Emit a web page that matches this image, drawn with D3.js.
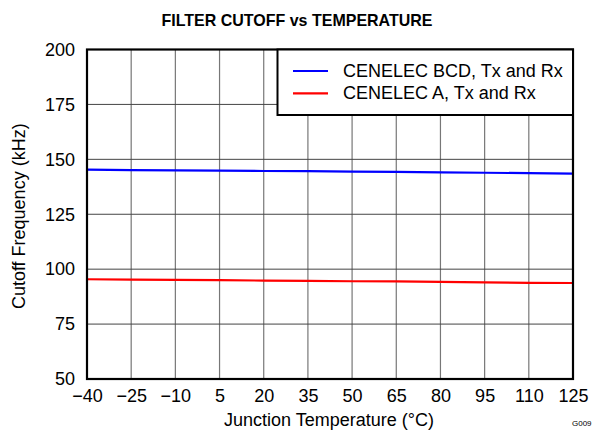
<!DOCTYPE html>
<html><head><meta charset="utf-8">
<script src="https://cdn.jsdelivr.net/npm/d3@7"></script>
<style>body{margin:0;background:#fff}svg{display:block;font-family:"Liberation Sans",Arial,sans-serif}</style>
</head><body><svg id="c" width="595" height="433"></svg>
<script>
const temps = [-40,-25,-10,5,20,35,50,65,80,95,110,125];
const bcdValues = [145.3,145.1,145.0,144.9,144.7,144.6,144.4,144.3,144.1,143.9,143.7,143.5];
const aValues = [95.4,95.2,95.1,95.0,94.8,94.7,94.5,94.4,94.2,94.0,93.8,93.7];
const xTicks = [-40,-25,-10,5,20,35,50,65,80,95,110,125];
const yTicks = [50,75,100,125,150,175,200];
const seriesNames = ["CENELEC BCD, Tx and Rx","CENELEC A, Tx and Rx"];
const seriesColors = ["#0000ff","#ff0000"];

const svg = d3.select("#c");
const L=87, R=573, T=49.5, B=379;
const x = d3.scaleLinear().domain([-40,125]).range([L,R]);
const y = d3.scaleLinear().domain([50,200]).range([B,T]);
const FS = 18;

// grid
svg.append("g").selectAll("line").data(xTicks.slice(1,-1)).join("line")
  .attr("x1",d=>x(d)).attr("x2",d=>x(d)).attr("y1",T).attr("y2",B)
  .attr("stroke","#777").attr("stroke-width",1.2);
svg.append("g").selectAll("line").data(yTicks.slice(1,-1)).join("line")
  .attr("x1",L).attr("x2",R).attr("y1",d=>y(d)).attr("y2",d=>y(d))
  .attr("stroke","#444").attr("stroke-width",1);

// lines
const line = d3.line().x((d,i)=>x(temps[i])).y(d=>y(d));
[bcdValues,aValues].forEach((vals,i)=>{
  svg.append("path").datum(vals).attr("d",line).attr("fill","none")
    .attr("stroke",seriesColors[i]).attr("stroke-width",2.2);
});

// frame
svg.append("rect").attr("x",L).attr("y",T).attr("width",R-L).attr("height",B-T)
  .attr("fill","none").attr("stroke","#000").attr("stroke-width",2.2);

// legend
const lg = svg.append("g");
lg.append("rect").attr("x",277.5).attr("y",T).attr("width",R-277.5).attr("height",115-T)
  .attr("fill","#fff").attr("stroke","#000").attr("stroke-width",2);
seriesNames.forEach((n,i)=>{
  const yy = 71 + i*22.3;
  lg.append("line").attr("x1",293).attr("x2",328).attr("y1",yy).attr("y2",yy)
    .attr("stroke",seriesColors[i]).attr("stroke-width",2.2);
  lg.append("text").attr("x",343).attr("y",yy+6).attr("font-size",FS).text(n);
});

// axes labels
const xa = d3.axisBottom(x).tickValues(xTicks).tickSize(0).tickPadding(0)
  .tickFormat(d=>d<0?"\u2212"+Math.abs(d):d);
const gx = svg.append("g").attr("transform",`translate(0,${B})`).call(xa);
gx.select(".domain").remove();
gx.selectAll("text").attr("font-size",FS).attr("font-family","Liberation Sans, Arial, sans-serif")
  .attr("fill","#000").attr("y",22.5).attr("dy",0);

const ya = d3.axisLeft(y).tickValues(yTicks).tickSize(0).tickPadding(12);
const gy = svg.append("g").attr("transform",`translate(${L},0)`).call(ya);
gy.select(".domain").remove();
gy.selectAll("text").attr("font-size",FS).attr("font-family","Liberation Sans, Arial, sans-serif").attr("fill","#000");

svg.append("text").attr("x",297).attr("y",26).attr("text-anchor","middle")
  .attr("font-size",17).attr("font-weight","bold")
  .attr("textLength",271).attr("lengthAdjust","spacingAndGlyphs")
  .text("FILTER CUTOFF vs TEMPERATURE");
svg.append("text").attr("x",(L+R)/2-1).attr("y",426).attr("text-anchor","middle")
  .attr("font-size",FS).text("Junction Temperature (°C)");
svg.append("text").attr("transform",`translate(25,${(T+B)/2+2}) rotate(-90)`).attr("text-anchor","middle")
  .attr("font-size",FS).text("Cutoff Frequency (kHz)");
svg.append("text").attr("x",572).attr("y",426).attr("font-size",8).text("G009");
</script></body></html>
